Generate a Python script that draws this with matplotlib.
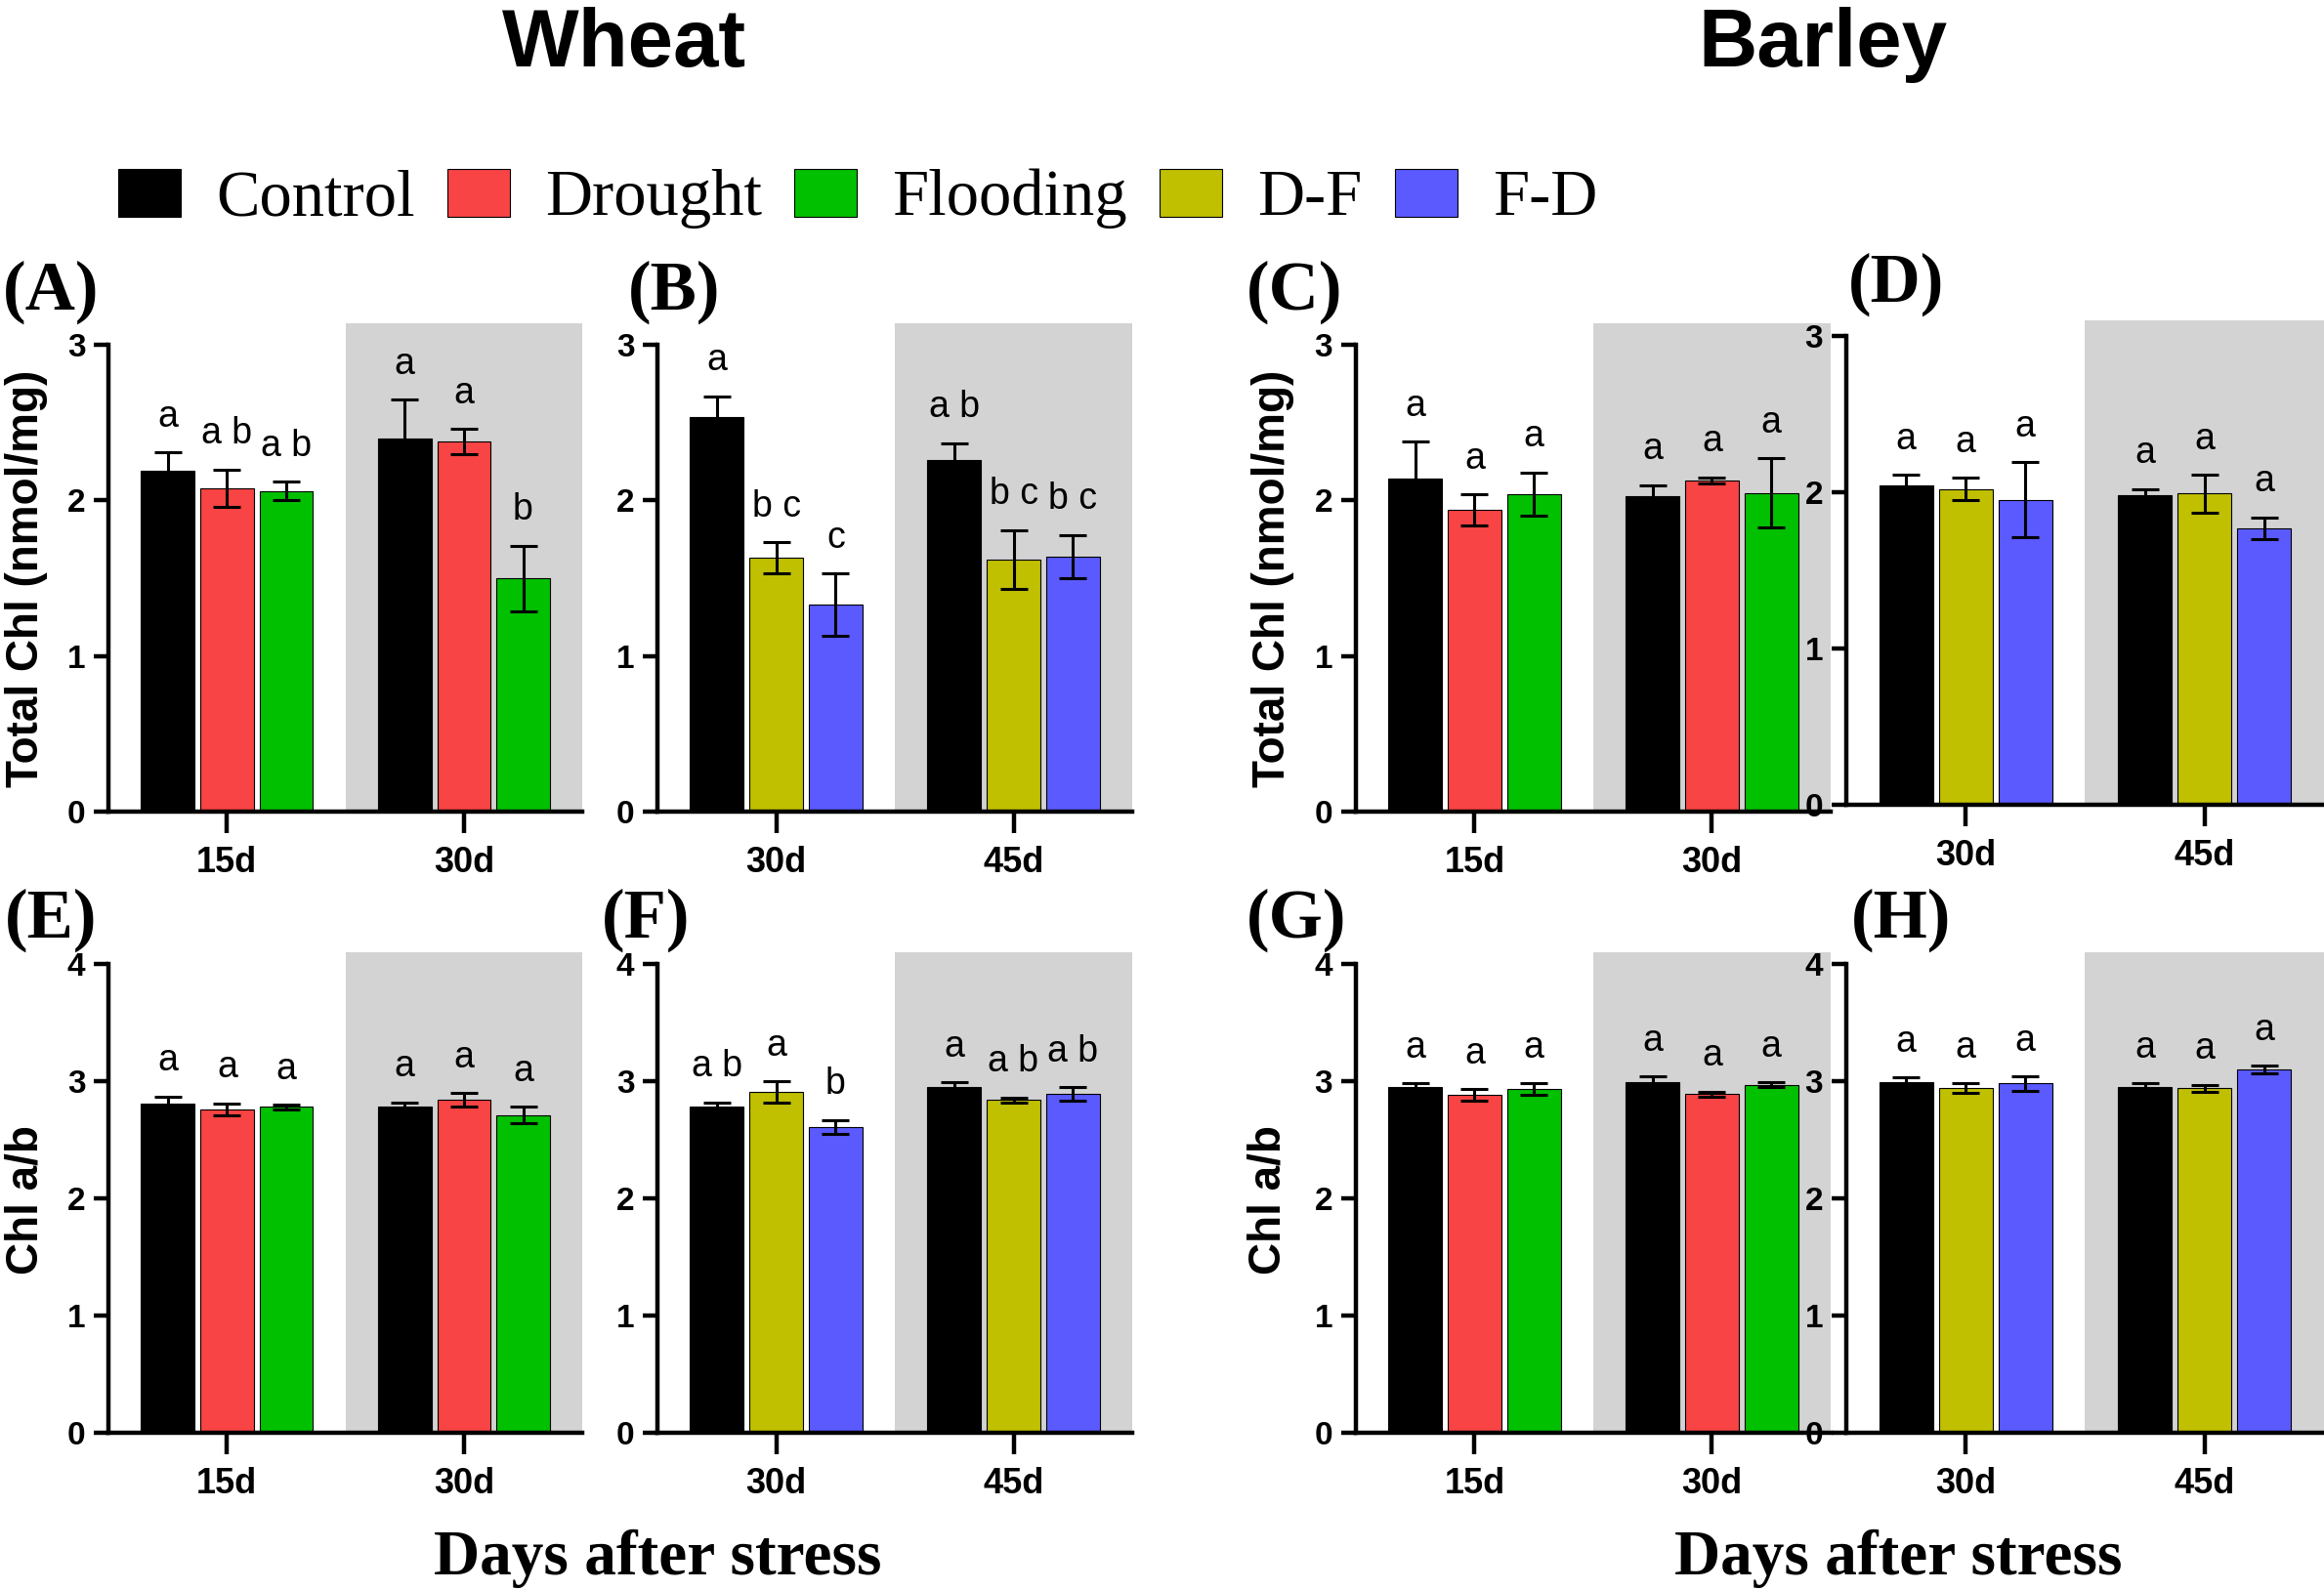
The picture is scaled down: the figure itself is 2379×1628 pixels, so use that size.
import matplotlib
matplotlib.use('Agg')
import matplotlib.pyplot as plt
from matplotlib.patches import Patch

SANS = 'Liberation Sans'
SERIF = 'Liberation Serif'

colors = {'Control': '#000000', 'Drought': '#F84444', 'Flooding': '#00C000',
          'D-F': '#C0C000', 'F-D': '#5A5AFF'}
shade = '#D3D3D3'

days_early = ['15d', '30d']
days_late = ['30d', '45d']
single = ['Control', 'Drought', 'Flooding']
combined = ['Control', 'D-F', 'F-D']

# values are [series][day]
# wheat, total chl
a_mean = [[2.19, 2.40], [2.08, 2.38], [2.06, 1.50]]
a_err = [[0.12, 0.25], [0.12, 0.08], [0.06, 0.21]]
a_let = [['a', 'a'], ['a b', 'a'], ['a b', 'b']]
b_mean = [[2.54, 2.26], [1.63, 1.62], [1.33, 1.64]]
b_err = [[0.13, 0.11], [0.10, 0.19], [0.20, 0.14]]
b_let = [['a', 'a b'], ['b c', 'b c'], ['c', 'b c']]
# barley, total chl
c_mean = [[2.14, 2.03], [1.94, 2.13], [2.04, 2.05]]
c_err = [[0.24, 0.07], [0.10, 0.02], [0.14, 0.22]]
c_let = [['a', 'a'], ['a', 'a'], ['a', 'a']]
d_mean = [[2.04, 1.98], [2.02, 1.99], [1.95, 1.77]]
d_err = [[0.07, 0.04], [0.07, 0.12], [0.24, 0.07]]
d_let = [['a', 'a'], ['a', 'a'], ['a', 'a']]
# wheat, chl a/b
e_mean = [[2.81, 2.78], [2.76, 2.84], [2.78, 2.71]]
e_err = [[0.06, 0.04], [0.05, 0.06], [0.02, 0.07]]
e_let = [['a', 'a'], ['a', 'a'], ['a', 'a']]
f_mean = [[2.78, 2.95], [2.91, 2.84], [2.61, 2.89]]
f_err = [[0.04, 0.04], [0.09, 0.02], [0.06, 0.06]]
f_let = [['a b', 'a'], ['a', 'a b'], ['b', 'a b']]
# barley, chl a/b
g_mean = [[2.95, 2.99], [2.88, 2.89], [2.93, 2.97]]
g_err = [[0.03, 0.05], [0.05, 0.02], [0.05, 0.02]]
g_let = [['a', 'a'], ['a', 'a'], ['a', 'a']]
h_mean = [[2.99, 2.95], [2.94, 2.94], [2.98, 3.10]]
h_err = [[0.04, 0.03], [0.04, 0.03], [0.06, 0.03]]
h_let = [['a', 'a'], ['a', 'a'], ['a', 'a']]

fig = plt.figure(figsize=(23.79, 16.28), dpi=100)

panels = [
    ('(A)', [0.0467, 0.4896, 0.2039, 0.3071], single, days_early, a_mean, a_err, a_let, 3, 3.14, (0.022, 0.816)),
    ('(B)', [0.2829, 0.4896, 0.2043, 0.3071], combined, days_late, b_mean, b_err, b_let, 3, 3.14, (0.290, 0.816)),
    ('(C)', [0.5834, 0.4896, 0.2043, 0.3071], single, days_early, c_mean, c_err, c_let, 3, 3.14, (0.557, 0.816)),
    ('(D)', [0.7944, 0.4939, 0.2056, 0.3047], combined, days_late, d_mean, d_err, d_let, 3, 3.10, (0.816, 0.821)),
    ('(E)', [0.0467, 0.0989, 0.2039, 0.3022], single, days_early, e_mean, e_err, e_let, 4, 4.1, (0.022, 0.421)),
    ('(F)', [0.2829, 0.0989, 0.2043, 0.3022], combined, days_late, f_mean, f_err, f_let, 4, 4.1, (0.278, 0.421)),
    ('(G)', [0.5834, 0.0989, 0.2043, 0.3022], single, days_early, g_mean, g_err, g_let, 4, 4.1, (0.558, 0.421)),
    ('(H)', [0.7944, 0.0989, 0.2056, 0.3022], combined, days_late, h_mean, h_err, h_let, 4, 4.1, (0.818, 0.421)),
]

for tag, rect, series, days, mean, err, lets, ymax, ytop, tagpos in panels:
    ax = fig.add_axes(rect)
    ax.axvspan(3, 7, color=shade, lw=0, zorder=0)
    for s, name in enumerate(series):
        xs = [4 * d + s for d in range(len(days))]
        ax.bar(xs, mean[s], width=0.9, color=colors[name], edgecolor='black',
               linewidth=0.8, zorder=2)
        ax.errorbar(xs, mean[s], yerr=err[s], fmt='none', ecolor='black',
                    elinewidth=2.2, capsize=10, capthick=2.2, zorder=3)
        for d in range(len(days)):
            ax.annotate(lets[s][d], xy=(xs[d], mean[s][d] + err[s][d]),
                        xytext=(0, 19), textcoords='offset points',
                        ha='center', va='baseline', fontsize=27, family=SANS)
    ax.set_xlim(-1, 7)
    ax.set_ylim(0, ytop)
    ax.set_xticks([1, 5])
    ax.set_xticklabels(days, fontsize=26, fontweight='bold', family=SANS)
    ax.set_yticks(range(ymax + 1))
    ax.set_yticklabels([str(v) for v in range(ymax + 1)], fontsize=24,
                       fontweight='bold', family=SANS)
    ax.spines['top'].set_visible(False)
    ax.spines['right'].set_visible(False)
    ax.spines['left'].set_linewidth(3.2)
    ax.spines['bottom'].set_linewidth(3.2)
    ax.spines['left'].set_bounds(0, ymax)
    ax.tick_params(axis='y', length=11, width=3.2, pad=6)
    ax.tick_params(axis='x', length=16, width=3.2, pad=9)
    ax.patch.set_alpha(0)
    fig.text(tagpos[0], tagpos[1], tag, ha='center', va='center',
             fontsize=51, fontweight='bold', family=SERIF)

# y labels
for x, y, txt in [(0.0113, 0.6364, 'Total Chl (nmol/mg)'), (0.5477, 0.6364, 'Total Chl (nmol/mg)'),
                  (0.0113, 0.2457, 'Chl a/b'), (0.5460, 0.2457, 'Chl a/b')]:
    fig.text(x, y, txt, rotation=90, ha='center', va='center',
             fontsize=33, fontweight='bold', family=SANS)

# titles
fig.text(0.2686, 0.958, 'Wheat', ha='center', va='baseline', fontsize=60,
         fontweight='bold', family=SANS)
fig.text(0.7844, 0.958, 'Barley', ha='center', va='baseline', fontsize=60,
         fontweight='bold', family=SANS)

# x labels
fig.text(0.283, 0.010, 'Days after stress', ha='center', va='baseline',
         fontsize=47, fontweight='bold', family=SERIF)
fig.text(0.817, 0.010, 'Days after stress', ha='center', va='baseline',
         fontsize=47, fontweight='bold', family=SERIF)

# legend
legend_names = ['Control', 'Drought', 'Flooding', 'D-F', 'F-D']
handles = [Patch(facecolor=colors[n], edgecolor='black', linewidth=0.8) for n in legend_names]
fig.legend(handles, legend_names, loc='lower left', bbox_to_anchor=(0.0509, 0.856),
           ncol=5, frameon=False, borderpad=0, borderaxespad=0,
           handlelength=0.96, handleheight=0.75, handletextpad=0.54,
           columnspacing=0.5, prop={'family': SERIF, 'size': 48})

fig.savefig('out.png', dpi=100)
